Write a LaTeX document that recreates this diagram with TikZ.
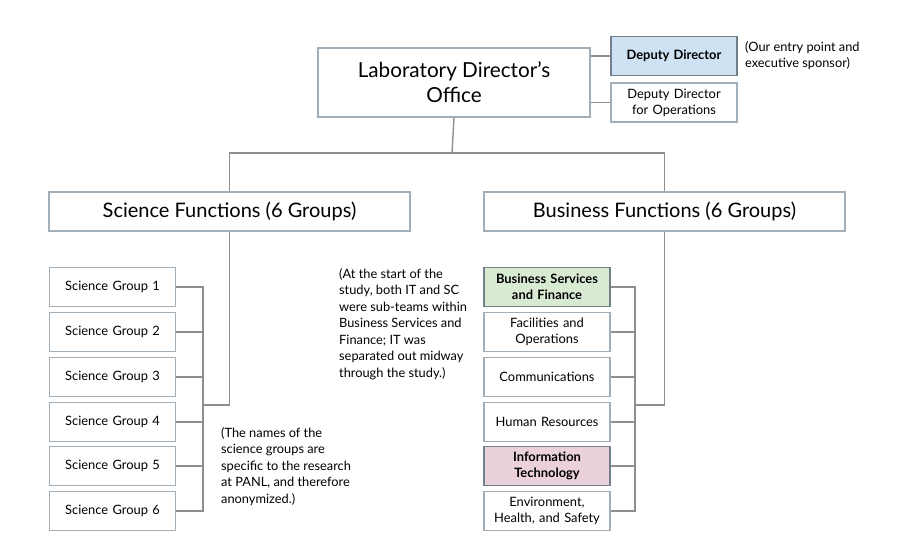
\documentclass[tikz,border=0pt]{standalone}
\usepackage{fontspec}
\setmainfont{Lato}
\definecolor{bord}{HTML}{A3AFB8}
\definecolor{bordd}{HTML}{71818C}
\definecolor{lnc}{HTML}{8E8E8E}
\definecolor{ddblue}{HTML}{CFE2F3}
\definecolor{bsgreen}{HTML}{D9EAD3}
\definecolor{itpink}{HTML}{EAD1DC}
\begin{document}
\begin{tikzpicture}[x=1pt,y=-1pt,
  box/.style={draw=bord,line width=1.2pt,fill=white,inner sep=0pt,align=center,text=black},
  big/.style={box,minimum width=361pt,minimum height=39pt,font=\fontsize{20}{24}\selectfont},
  small/.style={box,minimum width=126pt,minimum height=39pt,text width=124pt,font=\fontsize{12.9}{15.8}\selectfont},
  hl/.style={draw=bordd,line width=1.8pt},
  note/.style={inner sep=0pt,anchor=north west,align=left,font=\fontsize{12.8}{16.5}\selectfont},
  conn/.style={draw=lnc,line width=1.4pt}]
\useasboundingbox (0,0) rectangle (921,552);
% top
\node[box,minimum width=272pt,minimum height=69pt,font=\fontsize{20.7}{25}\selectfont] (main) at (454,82.5) {Laboratory Director’s\\Office};
\node[small,hl,fill=ddblue,font=\fontsize{12.9}{15.8}\selectfont\bfseries] (dd) at (674,56) {Deputy Director};
\node[small] (ddo) at (674,102.5) {Deputy Director\\for Operations};
\node[note,font=\fontsize{12.8}{16}\selectfont] (n0) at (745,41) {(Our entry point and\\executive sponsor)};
% functions
\node[big] (sci) at (229.5,211.5) {Science Functions (6 Groups)};
\node[big] (bus) at (664.5,211.5) {Business Functions (6 Groups)};
\coordinate (top) at (452,153);
\coordinate (sj) at (203,405);
\coordinate (bj) at (635,405);
% science groups
\node[small] (s1) at (112.5,287) {Science Group 1};
\node[small] (s2) at (112.5,332) {Science Group 2};
\node[small] (s3) at (112.5,377) {Science Group 3};
\node[small] (s4) at (112.5,422) {Science Group 4};
\node[small] (s5) at (112.5,466) {Science Group 5};
\node[small] (s6) at (112.5,511) {Science Group 6};
% business groups
\node[small,hl,fill=bsgreen,font=\fontsize{12.9}{15.8}\selectfont\bfseries] (b1) at (547,287) {Business Services\\and Finance};
\node[small] (b2) at (547,332) {Facilities and\\Operations};
\node[small] (b3) at (547,377) {Communications};
\node[small] (b4) at (547,422) {Human Resources};
\node[small,hl,fill=itpink,font=\fontsize{12.9}{15.8}\selectfont\bfseries] (b5) at (547,466) {Information\\Technology};
\node[small] (b6) at (547,511) {Environment,\\Health, and Safety};
% notes
\node[note] (n1) at (339,268) {(At the start of the\\study, both IT and SC\\were sub-teams within\\Business Services and\\Finance; IT was\\separated out midway\\through the study.)};
\node[note] (n2) at (221,427) {(The names of the\\science groups are\\specific to the research\\at PANL, and therefore\\anonymized.)};
% connectors
\draw[conn] (main.east |- dd.west) -- (dd.west);
\draw[conn] (main.east |- ddo.west) -- (ddo.west);
\draw[conn] (main.south) -- (top);
\draw[conn] (sci.north) |- (top) -| (bus.north);
\draw[conn] (sci.south) |- (sj);
\draw[conn] (bus.south) |- (bj);
\foreach \k in {1,...,6} {
  \draw[conn] (s\k.east) -| (sj);
  \draw[conn] (b\k.east) -| (bj);
}
\end{tikzpicture}
\end{document}
